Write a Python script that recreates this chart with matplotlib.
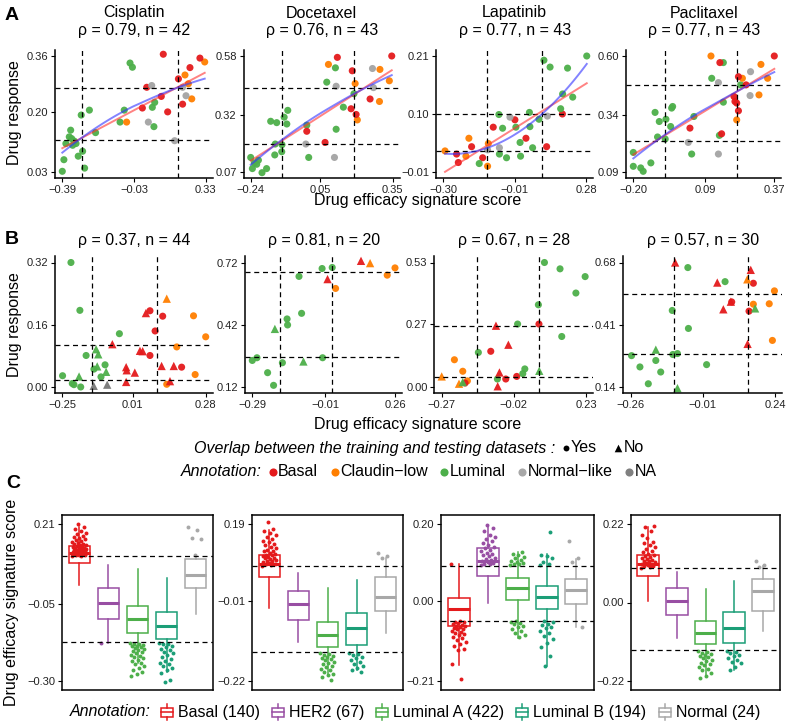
import numpy as np
import matplotlib
matplotlib.use("Agg")
import matplotlib.pyplot as plt
from matplotlib.patches import Rectangle

plt.rcParams['font.family'] = ['Liberation Sans', 'DejaVu Sans']

# ---------------- DATA ----------------
# Panel A (training) : drug, rho, n
a_drugs = ["Cisplatin", "Docetaxel", "Lapatinib", "Paclitaxel"]
a_rho = [0.79, 0.76, 0.77, 0.77]
a_n = [42, 43, 43, 43]
a_xticks = [[-0.39, -0.03, 0.33], [-0.24, 0.05, 0.35], [-0.30, -0.01, 0.28], [-0.20, 0.09, 0.37]]
a_yticks = [[0.03, 0.20, 0.36], [0.07, 0.32, 0.58], [-0.01, 0.10, 0.21], [0.09, 0.34, 0.60]]
a_vlines = [[-0.293, 0.189], [-0.110, 0.191], [-0.121, 0.100], [-0.072, 0.221]]
a_hlines = [[0.269, 0.120], [0.441, 0.193], [0.100, 0.030], [0.473, 0.225]]

cis_x = [-0.39, -0.382, -0.348, -0.372, -0.343, -0.338, -0.321, -0.31, -0.288, -0.278, -0.295, -0.254,
         -0.223, -0.05, -0.038, -0.079, -0.10, 0.062, 0.074, 0.07, -0.355, -0.33,
         -0.067, 0.226, 0.243, 0.26, 0.325,
         0.034, 0.117, 0.012, 0.107, 0.139, 0.193, 0.251, 0.214, 0.301,
         0.059, 0.042, 0.174, 0.214, 0.231]
cis_y = [0.032, 0.065, 0.149, 0.111, 0.125, 0.106, 0.111, 0.075, 0.089, 0.041, 0.192, 0.206,
         0.142, 0.340, 0.328, 0.206, 0.172, 0.214, 0.228, 0.159, 0.13, 0.118,
         0.172, 0.306, 0.281, 0.238, 0.343,
         0.271, 0.365, 0.212, 0.245, 0.201, 0.295, 0.327, 0.223, 0.354,
         0.276, 0.172, 0.119, 0.271, 0.247]
cis_g = "LLLLLLLLLLLLLLLLLLLLLLCCCCCBBBBBBBBBNNNNN"

doc_x = [-0.24, -0.233, -0.215, -0.208, -0.193, -0.174, -0.140, -0.138, -0.157, -0.132, -0.111, -0.110,
         -0.101, -0.086, -0.090, -0.007, 0.001, 0.076, 0.112, 0.115, 0.145, 0.189, -0.225,
         0.083, 0.194, 0.203, 0.297, 0.295, 0.336,
         0.120, 0.182, -0.007, 0.069, 0.177, 0.198, 0.256, 0.346,
         -0.011, 0.108, 0.115, 0.266, 0.270]
doc_y = [0.134, 0.085, 0.104, 0.122, 0.067, 0.085, 0.145, 0.193, 0.293, 0.287, 0.159, 0.190,
         0.311, 0.341, 0.281, 0.276, 0.134, 0.465, 0.528, 0.258, 0.355, 0.414, 0.11,
         0.543, 0.459, 0.299, 0.521, 0.380, 0.471,
         0.574, 0.515, 0.249, 0.200, 0.348, 0.323, 0.391, 0.58,
         0.193, 0.134, 0.447, 0.525, 0.441]
doc_g = "LLLLLLLLLLLLLLLLLLLLLLLCCCCCCBBBBBBBBNNNNN"

lap_x = [-0.293, -0.196, -0.208, -0.117, -0.120,
         -0.246, -0.239, -0.185, -0.140, -0.097, -0.009, 0.036, 0.120, 0.184,
         -0.154, -0.074, -0.059, -0.072, -0.043, 0.014, 0.012, 0.052, 0.050, 0.063, 0.089, 0.109,
         0.134, 0.205, 0.185, 0.177, 0.226, 0.283, -0.005,
         -0.120, -0.072, -0.029, 0.123]
lap_y = [0.030, 0.054, 0.020, 0.044, 0.001,
         0.024, 0.008, 0.038, 0.017, 0.075, 0.089, 0.054, 0.038, 0.100,
         0.006, 0.099, 0.073, 0.024, 0.017, 0.020, 0.046, 0.076, 0.103, 0.036, 0.090, 0.202,
         0.189, 0.187, 0.138, 0.110, 0.132, 0.210, 0.075,
         0.032, 0.036, 0.094, 0.096]
lap_g = "CCCCCBBBBBBBBBLLLLLLLLLLLLLLLLLLLNNNN"

pac_x = [-0.20, -0.20, -0.170, -0.160, -0.129, -0.112, -0.102, -0.095, -0.068, -0.071, -0.049, -0.045,
         -0.041, 0.045, 0.036, 0.117, 0.148, 0.164, 0.164, 0.234,
         0.114, 0.241, 0.218, 0.316, 0.343, 0.308,
         0.150, 0.225, 0.207, 0.211, 0.218, 0.225, 0.256, 0.370, 0.029, 0.157,
         0.144, 0.144, 0.022, 0.274, 0.272]
pac_y = [0.176, 0.115, 0.108, 0.093, 0.130, 0.352, 0.244, 0.312, 0.322, 0.235, 0.290, 0.371,
         0.378, 0.334, 0.169, 0.502, 0.251, 0.571, 0.397, 0.473,
         0.60, 0.502, 0.319, 0.563, 0.502, 0.429,
         0.571, 0.509, 0.422, 0.400, 0.393, 0.359, 0.473, 0.60, 0.283, 0.258,
         0.483, 0.169, 0.220, 0.531, 0.426]
pac_g = "LLLLLLLLLLLLLLLLLLLLCCCCCCBBBBBBBBBBNNNNN"

a_x = [cis_x, doc_x, lap_x, pac_x]
a_y = [cis_y, doc_y, lap_y, pac_y]
a_g = [cis_g, doc_g, lap_g, pac_g]

# Panel B (testing) : rho, n ; shape o = overlap Yes, ^ = No ; group X = NA
b_rho = [0.37, 0.81, 0.67, 0.57]
b_n = [44, 20, 28, 30]
b_xticks = [[-0.25, 0.01, 0.28], [-0.29, -0.01, 0.26], [-0.27, -0.02, 0.23], [-0.26, -0.01, 0.24]]
b_yticks = [[0.00, 0.16, 0.32], [0.12, 0.42, 0.72], [0.00, 0.27, 0.53], [0.14, 0.41, 0.68]]
b_vlines = [[-0.139, 0.101], [-0.182, 0.016], [-0.149, 0.068], [-0.110, 0.148]]
b_hlines = [[0.109, 0.019], [0.672, 0.264], [0.258, 0.041], [0.542, 0.281]]

b1_x = [-0.218, -0.185, -0.039, -0.249, -0.213, -0.207, -0.182, -0.162, -0.133, -0.092, -0.107,
        -0.188, -0.125, -0.117, -0.121, -0.088,
        -0.134, -0.084,
        -0.065, -0.014, -0.012, 0.018, -0.014, 0.037, 0.047, 0.059, 0.117, 0.148, 0.162,
        0.074, 0.074, 0.121, 0.093, 0.191,
        0.136,
        0.235, 0.28, 0.173, 0.241, 0.136]
b1_y = [0.32, 0.197, 0.137, 0.029, 0.009, 0.006, 0.0, 0.081, 0.046, 0.057, 0.026,
        0.027, 0.097, 0.084, 0.053, 0.039,
        0.003, 0.006,
        0.110, 0.051, 0.043, 0.037, 0.013, 0.093, 0.092, 0.190, 0.054, 0.015, 0.054,
        0.196, 0.081, 0.182, 0.144, 0.051,
        0.227,
        0.183, 0.129, 0.103, 0.032, 0.007]
b1_g = "LLLLLLLLLLLLLLLLXXBBBBBBBBBBBBBBBBCCCCCC"
b1_s = "ooooooooooo^^^^^^^^^^^^^^^^^^ooooo^ooooo"

b2_x = [-0.29, -0.272, -0.231, -0.208, -0.174, -0.156, -0.154, -0.110, -0.100, -0.021, 0.018, -0.019,
        -0.203, -0.093, 0.129, 0.0, 0.164, 0.031, 0.230, 0.26]
b2_y = [0.248, 0.261, 0.189, 0.128, 0.237, 0.448, 0.419, 0.653, 0.475, 0.691, 0.696, 0.261,
        0.40, 0.243, 0.728, 0.64, 0.717, 0.595, 0.659, 0.694]
b2_g = "LLLLLLLLLLLLLLBBCCCC"
b2_s = "oooooooooooo^^^^^ooo"

b3_x = [-0.27, -0.210, -0.226, -0.197, -0.181,
        -0.082, -0.039, -0.070, -0.076, -0.189, -0.100, -0.048, -0.010, 0.067,
        -0.143, -0.077, 0.011, 0.018, -0.007, 0.065, 0.086, 0.140, 0.146, 0.195, 0.227,
        0.068, -0.197]
b3_y = [0.045, 0.014, 0.116, 0.067, 0.026,
        0.261, 0.180, 0.062, 0.003, 0.017, 0.152, 0.034, 0.045, 0.268,
        0.147, 0.034, 0.057, 0.077, 0.268, 0.350, 0.53, 0.503, 0.215, 0.400, 0.470,
        0.069, 0.021]
b3_g = "CCCCCBBBBBBBBBLLLLLLLLLLLLL"
b3_s = "^^ooo^^^^oooooooooooooooo^^"

b4_x = [-0.257, -0.228, -0.199, -0.173, -0.156, -0.116, -0.114, -0.098, -0.062, -0.060, 0.003, 0.067,
        -0.173, -0.098, 0.171,
        -0.106, 0.040, 0.061, 0.087, 0.156, 0.145,
        0.090, 0.165, 0.150,
        0.144,
        0.238, 0.220, 0.165, 0.231]
b4_y = [0.276, 0.227, 0.154, 0.255, 0.205, 0.472, 0.281, 0.285, 0.658, 0.394, 0.237, 0.597,
        0.302, 0.135, 0.481,
        0.68, 0.593, 0.477, 0.510, 0.648, 0.327,
        0.509, 0.590, 0.469,
        0.607,
        0.557, 0.501, 0.499, 0.342]
b4_g = "LLLLLLLLLLLLLLLBBBBBBBBBCCCCC"
b4_s = "oooooooooooo^^^^^^^^^ooo^oooo"

b_x = [b1_x, b2_x, b3_x, b4_x]
b_y = [b1_y, b2_y, b3_y, b4_y]
b_g = [b1_g, b2_g, b3_g, b4_g]
b_s = [b1_s, b2_s, b3_s, b4_s]

# Panel C : boxplot stats per subtype (Basal, HER2, LumA, LumB, Normal)
c_labels = ["Basal (140)", "HER2 (67)", "Luminal A (422)", "Luminal B (194)", "Normal (24)"]
c_yticks = [[-0.30, -0.05, 0.21], [-0.22, -0.01, 0.19], [-0.21, 0.00, 0.20], [-0.22, 0.00, 0.22]]
c_thr = [[0.105, -0.173], [0.079, -0.145], [0.091, -0.052], [0.096, -0.134]]
c_lo = [[0.011, -0.175, -0.24, -0.27, -0.081], [-0.029, -0.117, -0.205, -0.19, -0.095],
        [-0.167, -0.005, -0.098, -0.17, -0.068], [0.004, -0.098, -0.205, -0.19, -0.080]]
c_q1 = [[0.082, -0.097, -0.143, -0.162, 0.001], [0.052, -0.06, -0.130, -0.126, -0.036],
        [-0.065, 0.064, 0.002, -0.023, -0.01], [0.073, -0.036, -0.116, -0.112, -0.023]]
c_med = [[0.1145, -0.046, -0.099, -0.122, 0.044], [0.086, -0.02, -0.099, -0.082, -0.001],
         [-0.022, 0.103, 0.033, 0.009, 0.027], [0.107, 0.003, -0.085, -0.070, 0.033]]
c_q3 = [[0.1395, 0.001, -0.056, -0.075, 0.095], [0.110, 0.015, -0.066, -0.043, 0.052],
        [0.008, 0.137, 0.060, 0.039, 0.056], [0.132, 0.041, -0.052, -0.027, 0.065]]
c_hi = [[0.20, 0.077, 0.064, 0.036, 0.107], [0.174, 0.061, 0.022, 0.044, 0.102],
        [0.094, 0.198, 0.126, 0.122, 0.109], [0.212, 0.086, 0.039, 0.060, 0.102]]

c1_pts = [
    [0.106, 0.107, 0.108, 0.109, 0.11, 0.111, 0.112, 0.113, 0.114, 0.115, 0.116, 0.117, 0.118, 0.119, 0.12,
     0.121, 0.122, 0.123, 0.124, 0.125, 0.126, 0.127, 0.128, 0.13, 0.131, 0.133, 0.134, 0.136, 0.138, 0.14,
     0.142, 0.144, 0.146, 0.148, 0.15, 0.153, 0.156, 0.16, 0.163, 0.167, 0.172, 0.176, 0.18, 0.186, 0.192,
     0.2, 0.208],
    [-0.175],
    [-0.175, -0.178, -0.18, -0.182, -0.185, -0.187, -0.19, -0.193, -0.196, -0.2, -0.203, -0.206, -0.21,
     -0.214, -0.218, -0.222, -0.226, -0.23, -0.235, -0.24, -0.245, -0.25, -0.258, -0.265, -0.27, -0.278, -0.282],
    [-0.175, -0.178, -0.181, -0.185, -0.19, -0.195, -0.2, -0.205, -0.21, -0.216, -0.222, -0.228, -0.235,
     -0.24, -0.245, -0.25, -0.258, -0.265, -0.272, -0.295, -0.302],
    [0.2, 0.19, 0.165, 0.16, 0.11]]
c2_pts = [
    [0.08, 0.082, 0.084, 0.086, 0.088, 0.09, 0.092, 0.094, 0.096, 0.098, 0.1, 0.102, 0.104, 0.106, 0.108,
     0.11, 0.112, 0.115, 0.118, 0.12, 0.123, 0.126, 0.13, 0.134, 0.138, 0.142, 0.146, 0.15, 0.155, 0.16,
     0.165, 0.17, 0.176, 0.196],
    [],
    [-0.147, -0.15, -0.152, -0.155, -0.158, -0.16, -0.163, -0.166, -0.17, -0.173, -0.176, -0.18, -0.184,
     -0.188, -0.192, -0.196, -0.2, -0.205, -0.21, -0.216],
    [-0.147, -0.15, -0.153, -0.157, -0.16, -0.165, -0.17, -0.175, -0.18, -0.185, -0.19, -0.195],
    [0.114, 0.105, 0.1]]
c3_pts = [
    [0.094, -0.053, -0.055, -0.057, -0.059, -0.061, -0.063, -0.065, -0.067, -0.069, -0.071, -0.073, -0.075,
     -0.078, -0.081, -0.084, -0.087, -0.09, -0.094, -0.098, -0.103, -0.108, -0.113, -0.118, -0.125, -0.13,
     -0.165, -0.205],
    [0.092, 0.094, 0.096, 0.098, 0.1, 0.103, 0.106, 0.109, 0.112, 0.115, 0.118, 0.121, 0.124, 0.128, 0.132,
     0.136, 0.14, 0.145, 0.15, 0.155, 0.16, 0.165, 0.17, 0.18, 0.19, 0.198],
    [0.092, 0.094, 0.096, 0.098, 0.1, 0.103, 0.106, 0.11, 0.114, 0.118, 0.122, 0.126,
     -0.053, -0.055, -0.058, -0.062, -0.066, -0.07, -0.075, -0.08, -0.085, -0.09, -0.095],
    [0.092, 0.096, 0.1, 0.11, 0.115, 0.12, 0.178,
     -0.053, -0.056, -0.06, -0.064, -0.068, -0.072, -0.078, -0.085, -0.092, -0.1, -0.11, -0.12, -0.145, -0.17],
    [0.154, 0.11, 0.1, -0.068]]
c4_pts = [
    [0.097, 0.099, 0.101, 0.103, 0.105, 0.107, 0.109, 0.111, 0.113, 0.115, 0.117, 0.119, 0.121, 0.124,
     0.127, 0.13, 0.133, 0.136, 0.14, 0.145, 0.15, 0.155, 0.16, 0.165, 0.17, 0.18, 0.19, 0.2, 0.21, 0.215],
    [],
    [-0.135, -0.138, -0.141, -0.144, -0.147, -0.15, -0.153, -0.156, -0.16, -0.164, -0.168, -0.172, -0.176,
     -0.18, -0.185, -0.19, -0.197, -0.205, -0.212],
    [-0.135, -0.138, -0.142, -0.146, -0.15, -0.155, -0.16, -0.165, -0.17, -0.18, -0.19],
    [0.116, 0.105, 0.1]]
c_pts = [c1_pts, c2_pts, c3_pts, c4_pts]

# ---------------- STYLE ----------------
W, H = 788, 723
PT_COL = {'B': '#E41A1C', 'C': '#FF7F00', 'L': '#4DAF4A', 'N': '#A3A3A3', 'X': '#777777'}
BOX_COL = ['#E41A1C', '#984EA3', '#4DAF4A', '#1B9E77', '#A8A8A8']
TICK_FS = 8
TITLE_FS = 11.5
LAB_FS = 11.5
LEG_FS = 11.5

fig = plt.figure(figsize=(W / 100, H / 100), dpi=100)


def add_px(l, t, w, h):
    return fig.add_axes([l / W, 1 - (t + h) / H, w / W, h / H])


def fmt(v):
    s = f"{v:.2f}"
    if s == "-0.00":
        s = "0.00"
    return s.replace('-', '\u2212')


def loess(x, y, xs, span=2.0):
    # local quadratic regression with tricube weights (R loess convention, span > 1 widens window)
    n = len(x)
    q = min(n, int(np.floor(n * span)))
    out = []
    for x0 in xs:
        d = np.abs(x - x0)
        h = np.sort(d)[q - 1] * max(1.0, span)
        w = np.clip(1 - (d / h) ** 3, 0, None) ** 3
        X = np.vstack([np.ones(n), x - x0, (x - x0) ** 2]).T
        XtW = X.T * w
        beta = np.linalg.solve(XtW @ X, XtW @ y)
        out.append(beta[0])
    return np.array(out)


def style_classic(ax, xt, yt):
    for s in ['top', 'right']:
        ax.spines[s].set_visible(False)
    for s in ['left', 'bottom']:
        ax.spines[s].set_linewidth(1.1)
    ax.set_xticks(xt)
    ax.set_yticks(yt)
    ax.set_xticklabels([fmt(v) for v in xt])
    ax.set_yticklabels([fmt(v) for v in yt])
    ax.tick_params(direction='out', length=3, width=0.8, labelsize=TICK_FS, labelcolor='#222222', pad=2)
    ex = 0.05
    ax.set_xlim(xt[0] - ex * (xt[-1] - xt[0]), xt[-1] + ex * (xt[-1] - xt[0]))
    ax.set_ylim(yt[0] - ex * (yt[-1] - yt[0]), yt[-1] + ex * (yt[-1] - yt[0]))


def dashed(ax, vl, hl):
    for v in vl:
        ax.axvline(v, color='black', lw=0.9, ls=(0, (4, 3)), zorder=3)
    for h in hl:
        ax.axhline(h, color='black', lw=0.9, ls=(0, (4, 3)), zorder=3)


# overlay for free text
ov = fig.add_axes([0, 0, 1, 1], zorder=10)
ov.set_xlim(0, W)
ov.set_ylim(H, 0)
ov.axis('off')

# ---------------- PANEL A ----------------
a_xpx = [(62.3, 205.7), (250.7, 392.7), (443.3, 586.0), (633.3, 774.3)]
a_ypx = (56.0, 172.0)
for i in range(4):
    S = a_xpx[i][1] - a_xpx[i][0]
    Sy = a_ypx[1] - a_ypx[0]
    ax = add_px(a_xpx[i][0] - 0.05 * S, a_ypx[0] - 0.05 * Sy, 1.1 * S, 1.1 * Sy)
    style_classic(ax, a_xticks[i], a_yticks[i])
    x = np.array(a_x[i]); y = np.array(a_y[i])
    cols = [PT_COL[g] for g in a_g[i]]
    ax.scatter(x, y, s=26, c=cols, lw=0, alpha=0.95, zorder=2)
    dashed(ax, a_vlines[i], a_hlines[i])
    xs = np.linspace(x.min(), x.max(), 80)
    p = np.polyfit(x, y, 1)
    ax.plot(xs, np.polyval(p, xs), color='#FF3030', lw=1.4, alpha=0.6, zorder=4)
    ax.plot(xs, loess(x, y, xs), color='#3030FF', lw=1.4, alpha=0.6, zorder=5)
    cx = a_xpx[i][0] + S / 2
    ov.text(cx, 13, a_drugs[i], ha='center', va='center', fontsize=TITLE_FS)
    ov.text(cx, 31, f"\u03c1 = {a_rho[i]:.2f}, n = {a_n[i]}", ha='center', va='center', fontsize=TITLE_FS)

ov.text(15, 113, "Drug response", rotation=90, ha='center', va='center', fontsize=LAB_FS)
ov.text(418, 201, "Drug efficacy signature score", ha='center', va='center', fontsize=LAB_FS)
ov.text(12, 15, "A", ha='center', va='center', fontsize=14, fontweight='bold')

# ---------------- PANEL B ----------------
b_xpx = [(62.3, 205.7), (252.3, 395.0), (441.7, 586.0), (630.7, 775.0)]
b_ypx = (262.5, 387.0)
for i in range(4):
    S = b_xpx[i][1] - b_xpx[i][0]
    Sy = b_ypx[1] - b_ypx[0]
    ax = add_px(b_xpx[i][0] - 0.05 * S, b_ypx[0] - 0.05 * Sy, 1.1 * S, 1.1 * Sy)
    style_classic(ax, b_xticks[i], b_yticks[i])
    x = np.array(b_x[i]); y = np.array(b_y[i])
    g = np.array(list(b_g[i])); sh = np.array(list(b_s[i]))
    for m, sz in (('o', 26), ('^', 36)):
        sel = sh == m
        ax.scatter(x[sel], y[sel], s=sz, marker=m, c=[PT_COL[k] for k in g[sel]], lw=0, alpha=0.95, zorder=2)
    dashed(ax, b_vlines[i], b_hlines[i])
    cx = b_xpx[i][0] + S / 2
    ov.text(cx, 241, f"\u03c1 = {b_rho[i]:.2f}, n = {b_n[i]}", ha='center', va='center', fontsize=TITLE_FS)

ov.text(15, 325, "Drug response", rotation=90, ha='center', va='center', fontsize=LAB_FS)
ov.text(418, 425, "Drug efficacy signature score", ha='center', va='center', fontsize=LAB_FS)
ov.text(12, 240, "B", ha='center', va='center', fontsize=14, fontweight='bold')

# ---------------- LEGEND ROWS ----------------
fig.canvas.draw()
renderer = fig.canvas.get_renderer()


def place_row(elems, y, cx):
    widths = []
    for e in elems:
        if e[0] == 't':
            widths.append(e[1].get_window_extent(renderer).width)
        else:
            widths.append(e[2])
    total = sum(widths) + sum(e[-1] for e in elems[:-1])
    x = cx - total / 2
    for e, w in zip(elems, widths):
        if e[0] == 't':
            e[1].set_position((x, y))
        else:
            e[1](x + w / 2, y)
        x += w + e[-1]


def mk(marker, color, s):
    def f(x, y):
        ov.scatter([x], [y], s=s, marker=marker, color=color, lw=0)
    return f


def boxkey(color):
    def f(x, y):
        ov.add_patch(Rectangle((x - 6, y - 4.5), 12, 9, fill=False, ec=color, lw=1.1))
        ov.plot([x - 6, x + 6], [y, y], color=color, lw=1.1)
        ov.plot([x, x], [y - 4.5, y - 8], color=color, lw=1.1)
        ov.plot([x, x], [y + 4.5, y + 8], color=color, lw=1.1)
    return f


def T(s, italic=False, fs=LEG_FS):
    return ov.text(0, 0, s, ha='left', va='center', fontsize=fs, style='italic' if italic else 'normal')


row1 = [('t', T("Overlap between the training and testing datasets :", True), 8),
        ('m', mk('o', 'black', 18), 6, 2),
        ('t', T("Yes"), 16),
        ('m', mk('^', 'black', 30), 9, 2),
        ('t', T("No"), 0)]
place_row(row1, 448, 419)

ann_names = ["Basal", "Claudin\u2212low", "Luminal", "Normal\u2212like", "NA"]
ann_cols = [PT_COL['B'], PT_COL['C'], PT_COL['L'], '#A8A8A8', '#808080']
row2 = [('t', T("Annotation:", True), 7)]
for nme, col in zip(ann_names, ann_cols):
    row2.append(('m', mk('o', col, 34), 7, 2))
    row2.append(('t', T(nme), 13))
place_row(row2, 472, 419)

ov.text(13, 483, "C", ha='center', va='center', fontsize=14, fontweight='bold')

# ---------------- PANEL C ----------------
c_px = [(62, 151), (252, 151), (441, 153), (631, 149)]
for i in range(4):
    ax = add_px(c_px[i][0], 515, c_px[i][1], 175)
    yt = c_yticks[i]
    ex = 0.056
    for j in range(5):
        c = BOX_COL[j]
        st = [dict(med=c_med[i][j], q1=c_q1[i][j], q3=c_q3[i][j], whislo=c_lo[i][j], whishi=c_hi[i][j], fliers=[])]
        ax.bxp(st, positions=[j + 1], widths=0.75, showfliers=False, showcaps=False, patch_artist=True,
               boxprops=dict(edgecolor=c, facecolor='white', linewidth=1.1),
               whiskerprops=dict(color=c, linewidth=1.1),
               medianprops=dict(color=c, linewidth=2.2))
        v = np.array(c_pts[i][j])
        if len(v):
            off = ((np.arange(len(v)) * 0.6180339887) % 1 - 0.5) * 0.5
            ax.scatter(j + 1 + off, v, s=8, color=c, lw=0, zorder=4)
    for h in c_thr[i]:
        ax.axhline(h, color='black', lw=0.9, ls=(0, (4, 3)), zorder=5)
    ax.set_ylim(yt[0] - ex * (yt[-1] - yt[0]), yt[-1] + ex * (yt[-1] - yt[0]))
    ax.set_xlim(0.4, 5.6)
    ax.set_xticks([])
    ax.set_yticks(yt)
    ax.set_yticklabels([fmt(v) for v in yt])
    ax.tick_params(axis='y', direction='out', length=3, width=0.8, labelsize=TICK_FS, labelcolor='#222222', pad=2)
    for s in ax.spines.values():
        s.set_linewidth(1.1)

ov.text(12, 602, "Drug efficacy signature score", rotation=90, ha='center', va='center', fontsize=LAB_FS)

row3 = [('t', T("Annotation:", True), 10)]
for lab, col in zip(c_labels, BOX_COL):
    row3.append(('m', boxkey(col), 12, 5))
    row3.append(('t', T(lab), 12))
place_row(row3, 712, 415)

fig.savefig("out.png", dpi=100)
